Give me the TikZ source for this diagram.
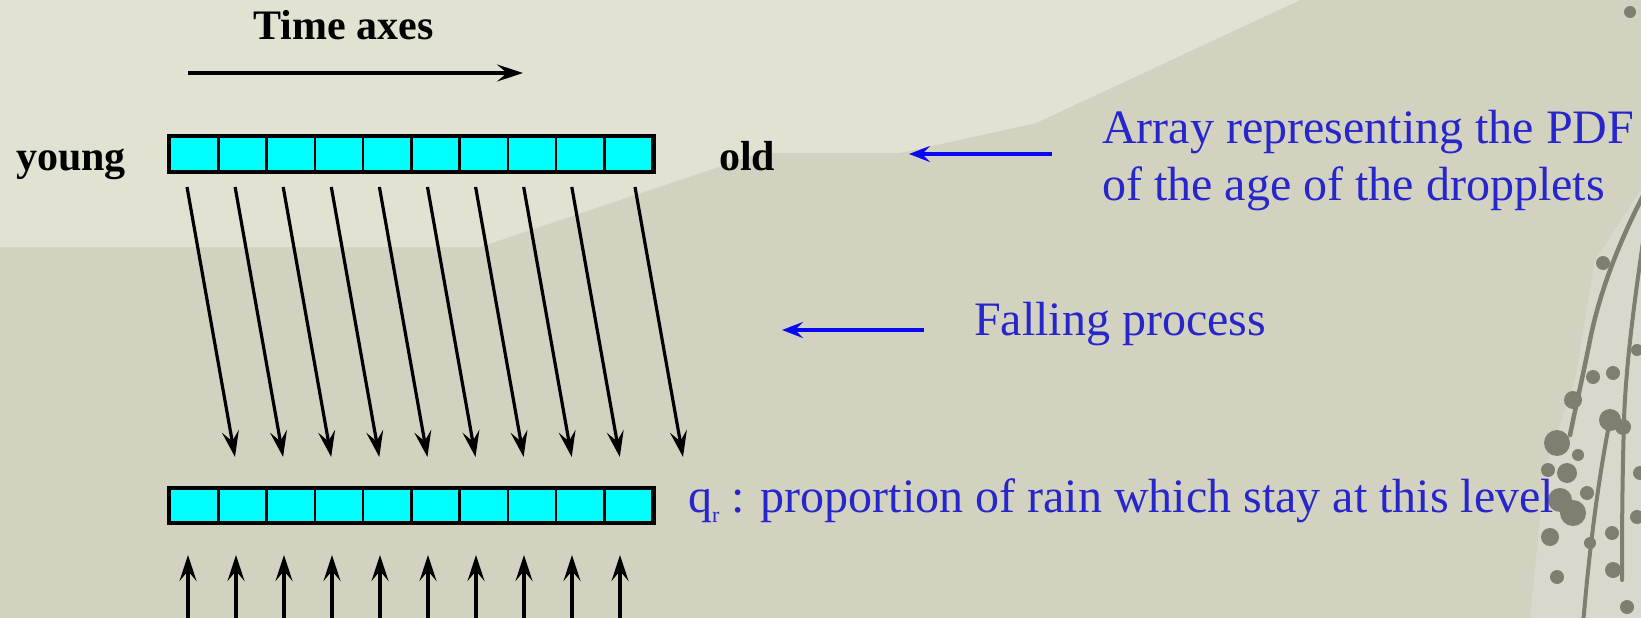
\documentclass[tikz,border=0pt]{standalone}
\usepackage{fontspec}
\setmainfont{Liberation Serif}
\usetikzlibrary{arrows.meta}

\definecolor{paperlow}{RGB}{211,210,193}
\definecolor{paperhigh}{RGB}{226,226,210}
\definecolor{paperpale}{RGB}{217,216,204}
\definecolor{twig}{RGB}{128,126,113}
\definecolor{cellfill}{RGB}{0,255,255}
\definecolor{notetext}{RGB}{38,38,204}
\definecolor{notearrow}{RGB}{8,8,245}

\tikzset{
  cell/.style={draw=black, line width=2.5pt, fill=cellfill, inner sep=0pt,
               minimum width=48.27pt, minimum height=#1},
  flow/.style={line width=3.2pt, -{Stealth[length=26pt, width=17pt, inset=10pt]}},
  pointer/.style={draw=notearrow, line width=4pt,
                  -{Stealth[length=21pt, width=16pt, inset=8pt]}},
  blacklabel/.style={font=\bfseries\fontsize{42}{50}\selectfont, inner sep=0pt},
  note/.style={text=notetext, font=\fontsize{48}{57}\selectfont, inner sep=0pt, anchor=base west},
  stem/.style={twig, line width=#1, line cap=round},
}

\begin{document}
\begin{tikzpicture}[x=1pt, y=-1pt]
  % paper background
  \useasboundingbox (0,0) rectangle (1641,618);
  \begin{scope}
    \clip (0,0) rectangle (1641,618);
    \fill[paperlow] (0,0) rectangle (1641,618);
    \fill[paperhigh] (0,0) -- (1300,0) -- (1036,123) -- (900,153) -- (760,153)
                     -- (480,247) -- (0,247) -- cycle;
    \fill[paperpale] (1641,190) -- (1595,260) -- (1575,380) -- (1545,470)
                     -- (1530,618) -- (1641,618) -- cycle;
    % twig on the right edge
    \draw[stem=4.5pt] (1645,192) .. controls (1620,240) and (1600,290) .. (1590,340)
                      .. controls (1582,380) and (1575,410) .. (1570,435);
    \draw[stem=4pt] (1610,420) .. controls (1600,470) and (1590,540) .. (1583,625);
    \draw[stem=4pt] (1645,228) .. controls (1636,290) and (1626,360) .. (1624,420)
                    .. controls (1622,490) and (1622,540) .. (1622,580);
    \foreach \px/\py/\pr in {1603/263/7, 1593/377/7, 1613/373/7, 1573/400/9, 1610/420/11,
                             1623/427/8, 1557/443/13, 1567/473/10, 1560/500/12, 1573/513/13,
                             1550/537/9, 1587/493/7, 1612/533/7, 1637/517/7, 1640/473/7,
                             1613/570/8, 1557/577/7, 1627/607/7, 1637/350/6, 1590/543/6,
                             1548/470/7, 1578/455/6, 1630/12/6}
      \fill[twig] (\px,\py) circle (\pr);
  \end{scope}

  % labels of the upper array
  \node[blacklabel, anchor=base] (timelbl) at (343.5,40) {Time axes};
  \node[blacklabel, anchor=base east] (young) at (126,170) {young};
  \node[blacklabel, anchor=base west] (old) at (719,170) {old};

  % time direction
  \coordinate (t-from) at (188,73);
  \coordinate (t-to) at (523,73);
  \draw[flow] (t-from) -- (t-to);

  % the two arrays of ages
  \foreach \i in {0,...,9} {
    \node[cell=34pt] (up\i) at ({170+48.27*(\i+0.5)},154) {};
    \node[cell=33pt] (lo\i) at ({170+48.27*(\i+0.5)},505.5) {};
  }
  \draw[line width=3.5pt] (up0.north west) rectangle (up9.south east);
  \draw[line width=3.5pt] (lo0.north west) rectangle (lo9.south east);

  % falling process
  \foreach \i in {0,...,8} {
    \coordinate (fs\i) at ({187+48.1*\i},187);
    \coordinate (fe\i) at ({235+48.1*\i},457);
    \draw[flow] (fs\i) -- (fe\i);
  }
  \coordinate (fs9) at (635,187);
  \coordinate (fe9) at (683,457);
  \draw[flow] (fs9) -- (fe9);

  % incoming from below
  \foreach \i in {0,...,9} {
    \coordinate (rs\i) at ({188+48*\i},630);
    \coordinate (re\i) at ({188+48*\i},555);
    \draw[flow] (rs\i) -- (re\i);
  }

  % explanations
  \node[note] (pdf1) at (1102,143) {Array representing the PDF};
  \node[note] (pdf2) at (1102,200) {of the age of the dropplets};
  \coordinate (p1-from) at (1052,154);
  \coordinate (p1-to) at (909,154);
  \draw[pointer] (p1-from) -- (p1-to);

  \node[note] (fall) at (974,335) {Falling process};
  \coordinate (p2-from) at (924,330);
  \coordinate (p2-to) at (782,330);
  \draw[pointer] (p2-from) -- (p2-to);

  \node[note] (qr) at (688,512) {q\raisebox{-10.5pt}{\fontsize{22}{22}\selectfont r} : proportion of rain which stay at this level};
\end{tikzpicture}
\end{document}
